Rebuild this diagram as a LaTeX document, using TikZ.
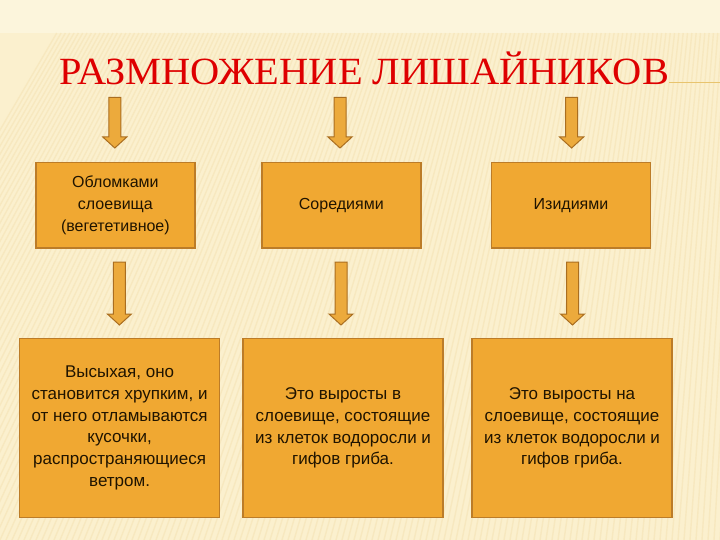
\documentclass[tikz,border=0pt]{standalone}
\usepackage{fontspec}
\setmainfont{Liberation Serif}
\newfontfamily\sansf{Liberation Sans}
\usetikzlibrary{calc}
\definecolor{bgcream}{RGB}{251,240,206}
\definecolor{bgtop}{RGB}{252,245,220}
\definecolor{stripe}{RGB}{238,214,158}
\definecolor{boxfill}{RGB}{240,168,50}
\definecolor{boxedge}{RGB}{188,124,40}
\definecolor{arrfill}{RGB}{236,170,60}
\definecolor{arredge}{RGB}{170,110,32}
\definecolor{titlered}{RGB}{222,0,0}
\definecolor{goldline}{RGB}{232,196,110}
\definecolor{txt}{RGB}{32,20,0}
\tikzset{
  topbox/.style={draw=boxedge, line width=1.4pt, fill=boxfill, minimum width=159pt, minimum height=85.5pt,
    inner sep=0pt, align=center, text=txt, font=\sansf\fontsize{16}{21.7}\selectfont},
  lowbox/.style={draw=boxedge, line width=1.4pt, fill=boxfill, minimum width=200pt, minimum height=179pt,
    inner sep=0pt, align=center, text=txt, font=\sansf\fontsize{17}{21.7}\selectfont},
  blockarr/.style={draw=arredge, line width=1pt, fill=arrfill, line join=miter},
}
\newcommand\barrow[2]{%
  \draw[blockarr] let \p1=#1, \p2=#2 in
    (\x1-6pt,\y1) -- (\x1+6pt,\y1) -- (\x1+6pt,\y2+11pt) -- (\x1+12pt,\y2+11pt)
    -- (\x1,\y2) -- (\x1-12pt,\y2+11pt) -- (\x1-6pt,\y2+11pt) -- cycle;}
\begin{document}
\begin{tikzpicture}[x=1pt,y=-1pt]
\useasboundingbox (0,0) rectangle (720,540);
% background
\fill[bgcream] (0,0) rectangle (720,540);
\fill[bgtop] (0,0) rectangle (720,33);
\begin{scope}
  \clip (0,33) rectangle (720,540);
  \foreach \i in {-40,...,140}{
    \draw[stripe, line width=1.4pt, opacity=0.3] (\i*6,540) -- ({\i*6+(820-\i*6)*0.28},33);
  }
\end{scope}
% title
\node[anchor=base, font=\fontsize{38.5}{38.5}\selectfont, text=titlered, inner sep=0pt] (title) at (364.4,84.4)
  {\scalebox{1.05}[1]{РАЗМНОЖЕНИЕ ЛИШАЙНИКОВ}};
\coordinate (lineend) at (720,82.6);
\draw[goldline, line width=1.3pt] (title.east |- lineend) -- (lineend);
% top boxes
\node[topbox] (b1) at (115.4,205.3) {Обломками\\слоевища\\(вегететивное)};
\node[topbox] (b2) at (341.3,205.3) {Соредиями};
\node[topbox] (b3) at (571.0,205.3) {Изидиями};
% bottom boxes
\node[lowbox] (c1) at (119.6,428) {Высыхая, оно\\становится хрупким, и\\от него отламываются\\кусочки,\\распространяющиеся\\ветром.};
\node[lowbox] (c2) at (343,428) {Это выросты в\\слоевище, состоящие\\из клеток водоросли и\\гифов гриба.};
\node[lowbox] (c3) at (572,428) {Это выросты на\\слоевище, состоящие\\из клеток водоросли и\\гифов гриба.};
% arrow coordinates
\coordinate (t1s) at (114.8,97.5); \coordinate (t1e) at (114.8,148);
\coordinate (t2s) at (340,97.5);   \coordinate (t2e) at (340,148);
\coordinate (t3s) at (571.6,97.5); \coordinate (t3e) at (571.6,148);
\coordinate (l1s) at (119.4,262);  \coordinate (l1e) at (119.4,325);
\coordinate (l2s) at (341,262);    \coordinate (l2e) at (341,325);
\coordinate (l3s) at (572.5,262);  \coordinate (l3e) at (572.5,325);
\barrow{(t1s)}{(t1e)}
\barrow{(t2s)}{(t2e)}
\barrow{(t3s)}{(t3e)}
\barrow{(l1s)}{(l1e)}
\barrow{(l2s)}{(l2e)}
\barrow{(l3s)}{(l3e)}
\end{tikzpicture}
\end{document}
